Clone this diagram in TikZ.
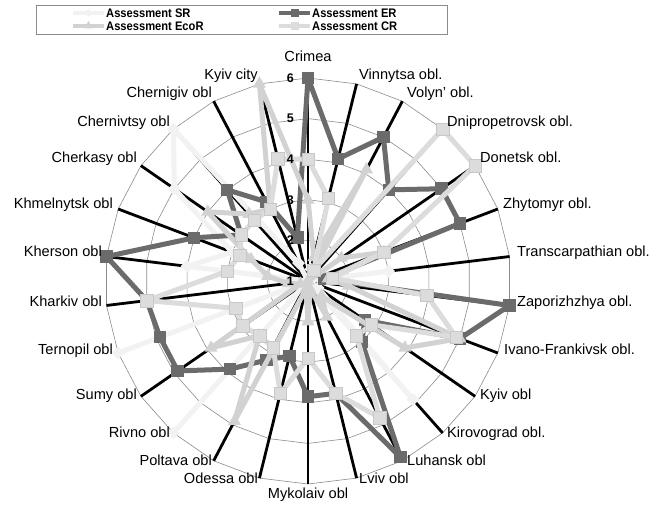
\documentclass[tikz,border=0pt]{standalone}
\usepackage{fontspec}
\setmainfont{Liberation Sans}
\newfontfamily\legfont[FakeStretch=0.9]{Liberation Sans}
\usetikzlibrary{shapes.geometric}
\definecolor{ercol}{HTML}{6B6B6B}
\definecolor{crcol}{HTML}{DCDCDC}
\definecolor{crline}{HTML}{C8C8C8}
\definecolor{ecocol}{HTML}{D2D2D2}
\definecolor{srcol}{HTML}{F2F2F2}
\definecolor{gridcol}{HTML}{8C8C8C}
\tikzset{
  ring/.style={draw=gridcol, line width=0.6pt},
  spoke/.style={draw=black, line width=2.8pt},
  serline/.style={line width=5pt, line join=round},
  sqmark/.style={rectangle, minimum size=12.5pt, inner sep=0pt},
  trimark/.style={regular polygon, regular polygon sides=3, minimum size=15pt, inner sep=0pt},
  dmmark/.style={diamond, minimum size=13pt, inner sep=0pt},
  axlabR/.style={anchor=base west, inner sep=0pt, font=\fontsize{14.6}{16}\selectfont},
  axlabL/.style={anchor=base east, inner sep=0pt, font=\fontsize{14.6}{16}\selectfont},
  axlabC/.style={anchor=base, inner sep=0pt, font=\fontsize{14.6}{16}\selectfont},
  ticklab/.style={anchor=east, inner sep=0pt, font=\bfseries\fontsize{12.5}{14}\selectfont},
  legtext/.style={anchor=base west, inner sep=0pt, font=\legfont\bfseries\fontsize{12.4}{13}\selectfont}
}
\begin{document}
\begin{tikzpicture}[x=1pt,y=1pt]
\useasboundingbox (0,0) rectangle (655,505);
\fill[white] (0,0) rectangle (655,505);
\coordinate (O) at (308,224);
\def\k{40.6}
\begin{scope}[shift={(308,224)}]
  % rings
  \foreach \v in {2,...,6}{
    \draw[ring] (90:{(\v-1)*\k}) \foreach \i in {1,...,25}{ -- ({90-\i*360/26}:{(\v-1)*\k}) } -- cycle;
  }
  % spokes
  \foreach \i in {0,...,25}{
    \coordinate (ax\i) at ({90-\i*360/26}:{5*\k});
    \draw[spoke] (O) -- (ax\i);
  }
  % data coordinates
  \foreach \v [count=\n from 0] in {1,1.3,1,1.2,1,1,3,1,1,1.3,4.9,1,1,1,1,1,6,1,6,1,4,3,5,6,1.5,1}{
    \coordinate (SR\n) at ({90-\n*360/26}:{(\v-1)*\k});}
  \foreach \v [count=\n from 0] in {6,4.1,5,4,5,5,1.4,6,5,2.7,3,5.9,3.85,3.85,2.9,3.2,3.9,4.9,4.9,5,6,4,3,4,3.2,2.1}{
    \coordinate (ER\n) at ({90-\n*360/26}:{(\v-1)*\k});}
  \foreach \v [count=\n from 0] in {3,1.6,4.1,1,2,3,1.5,2,5,3.9,1.5,2,1.2,2,1.2,4.9,2.8,3.9,1.2,1.5,2,2.5,4,3.2,3,6}{
    \coordinate (EC\n) at ({90-\n*360/26}:{(\v-1)*\k});}
  \foreach \v [count=\n from 0] in {4,3.1,1.3,6,6,3,1.6,3.95,4.9,2.9,2.8,4.8,3.85,2.9,3.85,2.85,2.8,2.95,2.9,5,3,2.8,3,3,3,4.1}{
    \coordinate (CR\n) at ({90-\n*360/26}:{(\v-1)*\k});}
\end{scope}
% SR
\draw[serline, draw=srcol] (SR0) \foreach \i in {1,...,25}{ -- (SR\i) } -- cycle;
\foreach \i in {0,...,25}{ \node[dmmark, fill=srcol] (srm\i) at (SR\i) {}; }
% ER
\draw[serline, draw=ercol] (ER0) \foreach \i in {1,...,25}{ -- (ER\i) } -- cycle;
\foreach \i in {0,...,25}{ \node[sqmark, fill=ercol] (erm\i) at (ER\i) {}; }
% EcoR
\draw[serline, draw=ecocol] (EC0) \foreach \i in {1,...,25}{ -- (EC\i) } -- cycle;
\foreach \i in {0,...,25}{ \node[trimark, fill=ecocol] (ecm\i) at (EC\i) {}; }
% CR
\draw[serline, draw=crcol] (CR0) \foreach \i in {1,...,25}{ -- (CR\i) } -- cycle;
\foreach \i in {0,...,25}{ \node[sqmark, fill=crcol, draw=crline, line width=0.5pt] (crm\i) at (CR\i) {}; }
% tick labels
\foreach \v in {1,...,6}{ \node[ticklab] (tk\v) at (294,{224+(\v-1)*\k}) {\v}; }
% axis labels
\node[axlabC] (l0) at (308,443) {Crimea};
\node[axlabR] (l1) at (359,425) {Vinnytsa obl.};
\node[axlabR] (l2) at (407,407) {Volyn' obl.};
\node[axlabR] (l3) at (447,378) {Dnipropetrovsk obl.};
\node[axlabR] (l4) at (480,342) {Donetsk obl.};
\node[axlabR] (l5) at (503,296) {Zhytomyr obl.};
\node[axlabR] (l6) at (517,248) {Transcarpathian obl.};
\node[axlabR] (l7) at (517,198) {Zaporizhzhya obl.};
\node[axlabR] (l8) at (504,150) {Ivano-Frankivsk obl.};
\node[axlabR] (l9) at (480,105) {Kyiv obl};
\node[axlabR] (l10) at (447,67) {Kirovograd obl.};
\node[axlabR] (l11) at (407,39) {Luhansk obl};
\node[axlabR] (l12) at (359,21) {Lviv obl};
\node[axlabC] (l13) at (308,6) {Mykolaiv obl};
\node[axlabL] (l14) at (258,21) {Odessa obl};
\node[axlabL] (l15) at (212,39) {Poltava obl};
\node[axlabL] (l16) at (170,67) {Rivno obl};
\node[axlabL] (l17) at (137,105) {Sumy obl};
\node[axlabL] (l18) at (113,150) {Ternopil obl};
\node[axlabL] (l19) at (102,198) {Kharkiv obl};
\node[axlabL] (l20) at (102,248) {Kherson obl};
\node[axlabL] (l21) at (113,296) {Khmelnytsk obl};
\node[axlabL] (l22) at (137,342) {Cherkasy obl};
\node[axlabL] (l23) at (170,378) {Chernivtsy obl};
\node[axlabL] (l24) at (212,407) {Chernigiv obl};
\node[axlabL] (l25) at (258,425) {Kyiv city};
% legend
\draw[gridcol, line width=0.6pt] (36,471) rectangle (447,500);
\coordinate (lgA1) at (73,492); \coordinate (lgA2) at (104,492);
\coordinate (lgB1) at (73,479); \coordinate (lgB2) at (104,479);
\coordinate (lgC1) at (279,492); \coordinate (lgC2) at (310,492);
\coordinate (lgD1) at (279,479); \coordinate (lgD2) at (310,479);
\draw[line width=4pt, draw=srcol] (lgA1) -- (lgA2);
\node[diamond, minimum size=8pt, inner sep=0pt, fill=srcol] (lgAm) at (88.5,492) {};
\draw[line width=4pt, draw=ecocol] (lgB1) -- (lgB2);
\node[regular polygon, regular polygon sides=3, minimum size=10pt, inner sep=0pt, fill=ecocol] (lgBm) at (88.5,479) {};
\draw[line width=4pt, draw=ercol] (lgC1) -- (lgC2);
\node[rectangle, minimum size=8pt, inner sep=0pt, fill=ercol] (lgCm) at (294.5,492) {};
\draw[line width=4pt, draw=crcol] (lgD1) -- (lgD2);
\node[rectangle, minimum size=8pt, inner sep=0pt, fill=crcol] (lgDm) at (294.5,479) {};
\node[legtext] (lgAt) at (106,487.8) {Assessment SR};
\node[legtext] (lgBt) at (106,474.8) {Assessment EcoR};
\node[legtext] (lgCt) at (312,487.8) {Assessment ER};
\node[legtext] (lgDt) at (312,474.8) {Assessment CR};
\end{tikzpicture}
\end{document}
